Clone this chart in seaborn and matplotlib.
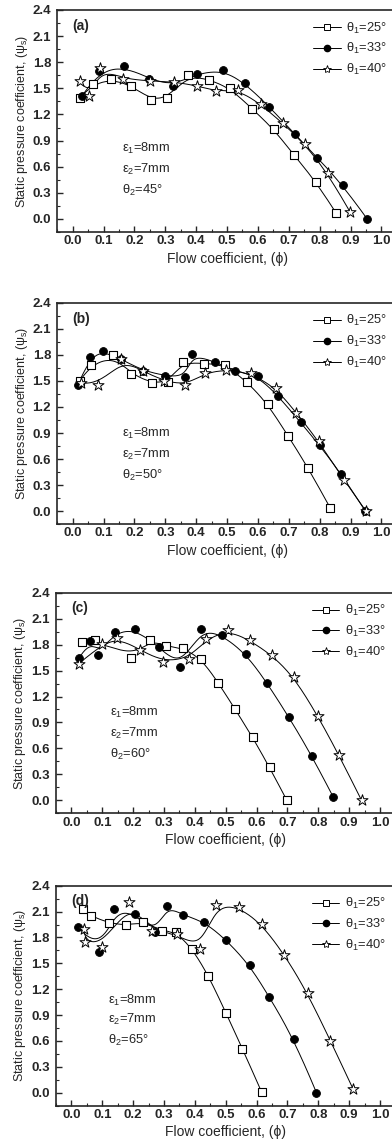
import numpy as np
import pandas as pd
import matplotlib
matplotlib.use("Agg")
import matplotlib.pyplot as plt
import seaborn as sns
from matplotlib.lines import Line2D
from matplotlib.ticker import MultipleLocator

# ---------------- data ----------------
# panel (a)  theta2 = 45
a25_x = [0.022, 0.065, 0.125, 0.19, 0.254, 0.307, 0.374, 0.443, 0.511, 0.581, 0.652, 0.716, 0.788, 0.853]
a25_y = [1.39, 1.55, 1.61, 1.53, 1.37, 1.39, 1.65, 1.60, 1.50, 1.265, 1.03, 0.735, 0.43, 0.07]
a33_x = [0.03, 0.084, 0.165, 0.248, 0.324, 0.403, 0.487, 0.557, 0.637, 0.719, 0.792, 0.875, 0.954]
a33_y = [1.41, 1.70, 1.76, 1.61, 1.53, 1.67, 1.71, 1.56, 1.29, 0.975, 0.705, 0.39, 0.0]
a40_x = [0.024, 0.052, 0.087, 0.164, 0.249, 0.327, 0.403, 0.465, 0.536, 0.609, 0.68, 0.751, 0.827, 0.899]
a40_y = [1.585, 1.415, 1.73, 1.61, 1.585, 1.575, 1.53, 1.465, 1.485, 1.317, 1.10, 0.865, 0.525, 0.077]

# panel (b)  theta2 = 50
b25_x = [0.023, 0.058, 0.13, 0.19, 0.257, 0.31, 0.356, 0.425, 0.493, 0.565, 0.632, 0.697, 0.763, 0.835]
b25_y = [1.50, 1.69, 1.80, 1.58, 1.475, 1.49, 1.72, 1.70, 1.69, 1.49, 1.235, 0.868, 0.50, 0.03]
b33_x = [0.016, 0.056, 0.098, 0.158, 0.227, 0.30, 0.365, 0.387, 0.46, 0.527, 0.60, 0.665, 0.738, 0.80, 0.87, 0.948]
b33_y = [1.45, 1.78, 1.85, 1.75, 1.62, 1.56, 1.545, 1.81, 1.72, 1.615, 1.555, 1.33, 1.023, 0.756, 0.43, 0.0]
b40_x = [0.028, 0.082, 0.155, 0.227, 0.295, 0.365, 0.428, 0.495, 0.576, 0.659, 0.724, 0.797, 0.878, 0.95]
b40_y = [1.478, 1.451, 1.755, 1.613, 1.504, 1.451, 1.59, 1.632, 1.59, 1.42, 1.131, 0.81, 0.359, 0.0]

# panel (c)  theta2 = 60
c25_x = [0.035, 0.076, 0.194, 0.255, 0.307, 0.362, 0.421, 0.476, 0.53, 0.587, 0.642, 0.698]
c25_y = [1.83, 1.85, 1.64, 1.857, 1.78, 1.76, 1.636, 1.358, 1.054, 0.73, 0.381, 0.0]
c33_x = [0.024, 0.059, 0.086, 0.14, 0.207, 0.283, 0.353, 0.42, 0.489, 0.567, 0.634, 0.705, 0.779, 0.849]
c33_y = [1.64, 1.843, 1.677, 1.94, 1.978, 1.774, 1.542, 1.978, 1.91, 1.688, 1.355, 0.96, 0.517, 0.033]
c40_x = [0.024, 0.099, 0.148, 0.221, 0.296, 0.38, 0.436, 0.508, 0.577, 0.65, 0.72, 0.799, 0.866, 0.94]
c40_y = [1.58, 1.804, 1.882, 1.743, 1.603, 1.638, 1.862, 1.966, 1.85, 1.677, 1.43, 0.974, 0.529, 0.0]

# panel (d)  theta2 = 65
d25_x = [0.038, 0.062, 0.122, 0.176, 0.232, 0.293, 0.34, 0.392, 0.444, 0.50, 0.554, 0.616]
d25_y = [2.13, 2.045, 1.968, 1.94, 1.98, 1.88, 1.86, 1.667, 1.358, 0.93, 0.512, 0.01]
d33_x = [0.022, 0.088, 0.137, 0.205, 0.272, 0.31, 0.36, 0.43, 0.502, 0.578, 0.641, 0.722, 0.794]
d33_y = [1.92, 1.63, 2.13, 2.07, 1.86, 2.165, 2.06, 1.985, 1.77, 1.476, 1.11, 0.62, 0.0]
d40_x = [0.040, 0.043, 0.099, 0.187, 0.262, 0.342, 0.418, 0.468, 0.542, 0.616, 0.69, 0.765, 0.839, 0.913]
d40_y = [1.90, 1.745, 1.687, 2.207, 1.88, 1.84, 1.67, 2.175, 2.155, 1.957, 1.60, 1.16, 0.605, 0.04]

panel_tags = ["(a)", "(b)", "(c)", "(d)"]
theta2_vals = [45, 50, 60, 65]
theta1_labels = ["θ$_1$=25°", "θ$_1$=33°", "θ$_1$=40°"]
eps_labels = ["ε$_1$=8mm", "ε$_2$=7mm"]
x_ticks = [0.0, 0.1, 0.2, 0.3, 0.4, 0.5, 0.6, 0.7, 0.8, 0.9, 1.0]
y_ticks = [0.0, 0.3, 0.6, 0.9, 1.2, 1.5, 1.8, 2.1, 2.4]

panels = [
    [(a25_x, a25_y), (a33_x, a33_y), (a40_x, a40_y)],
    [(b25_x, b25_y), (b33_x, b33_y), (b40_x, b40_y)],
    [(c25_x, c25_y), (c33_x, c33_y), (c40_x, c40_y)],
    [(d25_x, d25_y), (d33_x, d33_y), (d40_x, d40_y)],
]

# ---------------- style ----------------
sns.set_style("ticks")
plt.rcParams["font.family"] = ["Liberation Sans", "DejaVu Sans"]
plt.rcParams["mathtext.fontset"] = "custom"
plt.rcParams["mathtext.rm"] = "Liberation Sans"
plt.rcParams["mathtext.it"] = "Liberation Sans:italic"
plt.rcParams["mathtext.bf"] = "Liberation Sans:bold"
plt.rcParams["xtick.direction"] = "in"
plt.rcParams["ytick.direction"] = "in"


def bspline(x, y, n=300, k=3):
    P = np.column_stack([x, y]).astype(float)
    m = len(P)
    k = min(k, m - 1)
    knots = np.concatenate([np.zeros(k), np.linspace(0, 1, m - k + 1), np.ones(k)])
    t = np.linspace(0, 1, n)
    t[-1] -= 1e-9
    N = np.zeros((n, len(knots) - 1))
    for i in range(len(knots) - 1):
        N[:, i] = (t >= knots[i]) & (t < knots[i + 1])
    for d in range(1, k + 1):
        Nn = np.zeros((n, len(knots) - 1 - d))
        for i in range(len(knots) - 1 - d):
            a = 0.0
            den1 = knots[i + d] - knots[i]
            if den1 > 0:
                a = (t - knots[i]) / den1 * N[:, i]
            b = 0.0
            den2 = knots[i + d + 1] - knots[i + 1]
            if den2 > 0:
                b = (knots[i + d + 1] - t) / den2 * N[:, i + 1]
            Nn[:, i] = a + b
        N = Nn
    C = N @ P
    return C[:, 0], C[:, 1]


marker_styles = [
    dict(marker="s", s=26, facecolor="white", edgecolor="black", linewidth=0.8),
    dict(marker="o", s=32, facecolor="black", edgecolor="black", linewidth=0.6),
    dict(marker="*", s=70, facecolor="white", edgecolor="black", linewidth=0.7),
]
legend_markers = [
    dict(marker="s", markersize=4.0, markerfacecolor="white", markeredgecolor="black", markeredgewidth=0.7),
    dict(marker="o", markersize=4.5, markerfacecolor="black", markeredgecolor="black"),
    dict(marker="*", markersize=6.0, markerfacecolor="white", markeredgecolor="black", markeredgewidth=0.6),
]

W, H = 392.0, 1144.0
fig = plt.figure(figsize=(W / 100, H / 100), dpi=100)

# (top, bottom, left) in pixels
boxes = [(10, 232, 57.3), (303, 524, 57.3), (592.7, 813.3, 56.0), (885.7, 1105.7, 56.0)]
text_x = [0.16, 0.16, 0.126, 0.12]
text_y = [(0.81, 0.57, 0.33), (0.895, 0.652, 0.413), (1.01, 0.77, 0.533), (1.075, 0.844, 0.609)]

for p, (top, bot, left) in enumerate(boxes):
    ax = fig.add_axes([left / W, (H - bot) / H, 339.5 / W, (bot - top) / H])
    for s_idx, (xs, ys) in enumerate(panels[p]):
        cx, cy = bspline(xs, ys)
        curve = pd.DataFrame({"x": cx, "y": cy})
        sns.lineplot(data=curve, x="x", y="y", sort=False, estimator=None,
                     color="black", linewidth=0.7, ax=ax, zorder=2)
        pts = pd.DataFrame({"x": xs, "y": ys})
        sns.scatterplot(data=pts, x="x", y="y", ax=ax, zorder=3 + s_idx,
                        **marker_styles[s_idx])
    ax.set_xlim(-0.05, 1.05)
    ax.set_ylim(-0.15, 2.4)
    ax.set_xticks(x_ticks)
    ax.set_yticks(y_ticks)
    ax.set_xticklabels([f"{v:.1f}" for v in x_ticks], fontweight="bold", fontsize=9.5)
    ax.set_yticklabels([f"{v:.1f}" for v in y_ticks], fontweight="bold", fontsize=9.5)
    ax.xaxis.set_minor_locator(MultipleLocator(0.05))
    ax.yaxis.set_minor_locator(MultipleLocator(0.15))
    ax.tick_params(which="major", length=4, width=1.0, pad=2.5, direction="in",
                   top=False, right=False)
    ax.tick_params(axis="y", which="major", pad=4.5)
    ax.tick_params(which="minor", length=2, width=0.8, direction="in",
                   top=False, right=False)
    for sp in ax.spines.values():
        sp.set_linewidth(1.2)
        sp.set_visible(True)
    ax.set_xlabel("Flow coefficient, (ϕ)", fontsize=10, labelpad=3)
    ax.set_ylabel("Static pressure coefficient, (ψ$_\\mathrm{s}$)", fontsize=9, labelpad=2)
    ax.text(0.0, 2.22, panel_tags[p], fontsize=10, fontweight="bold", va="center", ha="left")
    tx = text_x[p]
    ty = text_y[p]
    ax.text(tx, ty[0], eps_labels[0], fontsize=9.3, va="center", ha="left")
    ax.text(tx, ty[1], eps_labels[1], fontsize=9.3, va="center", ha="left")
    ax.text(tx, ty[2], f"θ$_2$={theta2_vals[p]}°", fontsize=9.3, va="center", ha="left")

    handles = [Line2D([0], [0], color="black", linewidth=0.7, **legend_markers[i]) for i in range(3)]
    ax.legend(handles, theta1_labels, loc="upper left", bbox_to_anchor=(0.78, 2.28),
              bbox_transform=ax.transData, frameon=False, fontsize=9.3,
              handlelength=2.1, handletextpad=0.45, labelspacing=0.45,
              borderpad=0, borderaxespad=0)

fig.savefig("out.png", dpi=100)
